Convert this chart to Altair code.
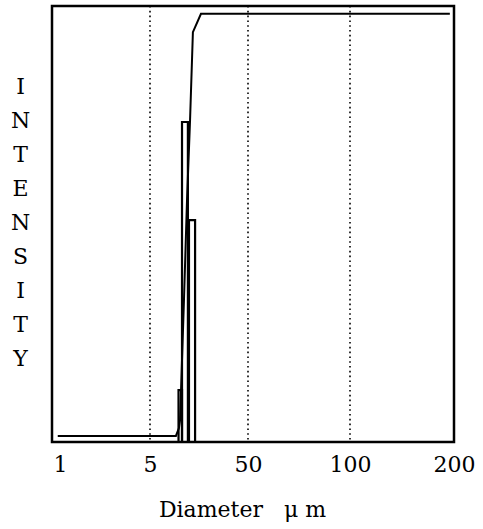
import altair as alt
import pandas as pd

# Axis ticks (diameter in micrometres) and their positions along the plot width
tick_values = [1, 5, 50, 100, 200]
tick_pixels = [8, 98, 196, 298, 402]
grid_values = [5, 50, 100]

# Cumulative curve
cum_diam = [0.9, 16.9, 18.3, 18.8, 20.6, 22.0, 23.4, 24.7, 28.4, 196]
cum_val = [1.4, 1.4, 3.2, 5.0, 32.6, 55.5, 73.9, 94.0, 98.2, 98.2]

# Histogram bins
bar_lo = [18.1, 19.7, 22.9]
bar_hi = [19.7, 22.4, 25.7]
bar_val = [11.9, 73.4, 50.9]

y_letters = list("INTENSITY")

serif = "DejaVu Serif"
nbsp = "\u00a0"

cum_df = pd.DataFrame({"d": cum_diam, "v": cum_val, "o": range(len(cum_diam))})
bar_df = pd.DataFrame({"lo": bar_lo, "hi": bar_hi, "v": bar_val, "base": [0] * len(bar_val)})
grid_df = pd.DataFrame({"g": grid_values})

x_scale = alt.Scale(domain=tick_values, range=tick_pixels, zero=False, nice=False)
y_scale = alt.Scale(domain=[0, 100], zero=False, nice=False)

x_axis = alt.Axis(
    values=tick_values,
    title="Diameter" + nbsp * 3 + "μ" + nbsp + "m",
    labelFont=serif, labelFontSize=22, labelColor="black",
    labelPadding=12, tickSize=0, ticks=False, domain=False, grid=False,
    labelFlush=False, labelOverlap=False,
    titleFont=serif, titleFontSize=22, titleFontWeight="normal",
    titleColor="black", titlePadding=24, titleX=190, titleAlign="center",
)
y_axis = alt.Axis(
    title=y_letters, titleAngle=0, titleX=-32, titleY=80,
    titleAlign="center", titleBaseline="middle", titleLineHeight=34,
    titleFont=serif, titleFontSize=22, titleFontWeight="normal", titleColor="black",
    labels=False, ticks=False, domain=False, grid=False,
)

grid = alt.Chart(grid_df).mark_rule(
    color="black", strokeWidth=1.6, strokeDash=[1.6, 3.2]
).encode(x=alt.X("g:Q", scale=x_scale, axis=x_axis))

bars = alt.Chart(bar_df).mark_rect(
    fill="white", fillOpacity=0, stroke="black", strokeWidth=2.2
).encode(
    x=alt.X("lo:Q", scale=x_scale, axis=x_axis),
    x2="hi:Q",
    y=alt.Y("v:Q", scale=y_scale, axis=y_axis),
    y2="base:Q",
)

curve = alt.Chart(cum_df).mark_line(color="black", strokeWidth=2).encode(
    x=alt.X("d:Q", scale=x_scale, axis=x_axis),
    y=alt.Y("v:Q", scale=y_scale, axis=y_axis),
    order="o:Q",
)

chart = alt.layer(grid, bars, curve).properties(
    width=402, height=436,
    padding={"left": 52, "top": 6, "right": 29, "bottom": 87},
    autosize=alt.AutoSizeParams(type="none"),
    background="white",
).configure_view(stroke="black", strokeWidth=2.5)

chart.save("out.html", embed_options={"renderer": "svg", "actions": False})
